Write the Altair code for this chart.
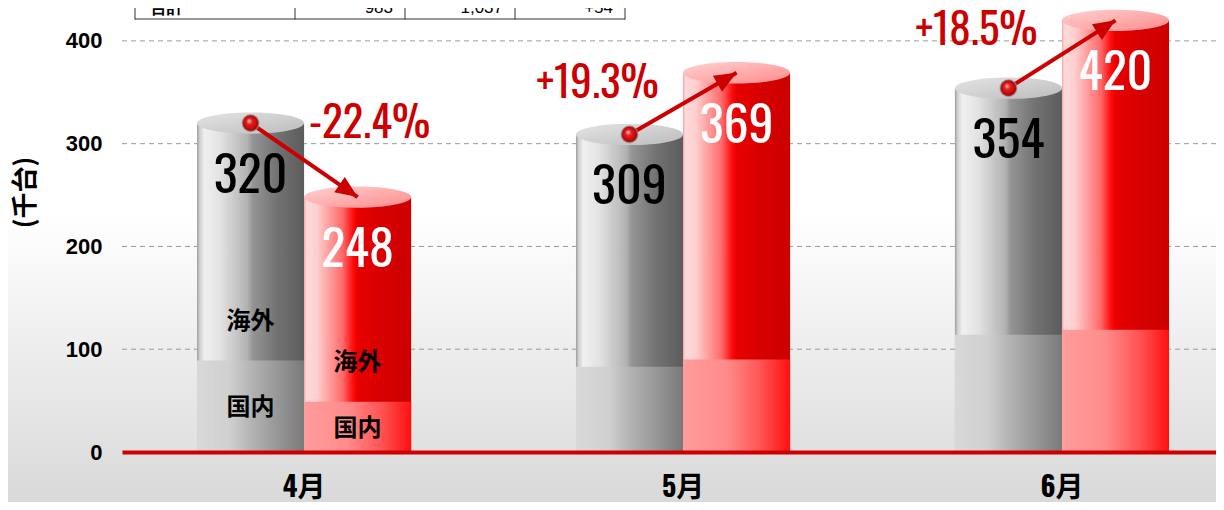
import math
import altair as alt
import pandas as pd

# ---------------- data ----------------
months = ["4月", "5月", "6月"]
series = ["前年", "当年"]
prev_total = [320, 309, 354]
prev_domestic = [89, 83, 114]
curr_total = [248, 369, 420]
curr_domestic = [49, 90, 119]
pct_labels = ["-22.4%", "+19.3%", "+18.5%"]
y_ticks = [0, 100, 200, 300, 400]
seg_names = ["海外", "国内"]
table_cells = ["合計", "983", "1,037", "+54"]
y_title = "(千台)"

# ---------------- layout ----------------
W, H = 1094, 444
YMAX = 432
PAD_L, PAD_B = 114, 50
P_IN, P_OUT, ALIGN = 0.435, 0.161, 0.615
step = W / (len(months) - P_IN + 2 * P_OUT)
band = step * (1 - P_IN)
sub = band / len(series)
kpx = H / YMAX

NUMF = "Oswald, Roboto Condensed, sans-serif"
CJK = "Noto Sans CJK JP"

xscale = alt.Scale(domain=months, paddingInner=P_IN, paddingOuter=P_OUT, align=ALIGN)
yscale = alt.Scale(domain=[0, YMAX], nice=False, zero=True)
oscale = alt.Scale(domain=series, paddingInner=0, paddingOuter=0)

xaxis = alt.Axis(labelAngle=0, domain=True, domainColor="#cc0000", domainWidth=4,
                 ticks=False, grid=False, labelFont="Oswald, Noto Sans CJK JP",
                 labelFontWeight="bold", labelFontSize=28, labelColor="#000000",
                 labelPadding=22, title=None, zindex=1)
yaxis = alt.Axis(values=y_ticks, grid=False, domain=False, ticks=False,
                 labelFont="Liberation Sans", labelFontWeight="bold", labelFontSize=22,
                 labelColor="#000000", labelPadding=20, title=y_title, titleFont=CJK,
                 titleFontSize=26, titleFontWeight="bold", titleColor="#000000",
                 titleX=-97, titleY=184, titleBaseline="middle", titleAlign="center", zindex=1)


def X():
    return alt.X("month:N", scale=xscale, axis=xaxis, sort=months)


def XO(field="series"):
    return alt.XOffset(f"{field}:N", scale=oscale, sort=series)


def Y(field):
    return alt.Y(f"{field}:Q", scale=yscale, axis=yaxis)


def grad(stops, x1=0, y1=0, x2=1, y2=0):
    return alt.Gradient(gradient="linear",
                        stops=[alt.GradientStop(offset=o, color=c) for o, c in stops],
                        x1=x1, y1=y1, x2=x2, y2=y2)


# tables
bars = pd.DataFrame({
    "month": months * 2,
    "series": [series[0]] * 3 + [series[1]] * 3,
    "total": prev_total + curr_total,
    "domestic": prev_domestic + curr_domestic,
})
bars["seg_mid"] = bars["domestic"] / 2
bars["series_idx"] = [0] * 3 + [1] * 3

seg = bars[bars["month"] == months[0]]
seg_os = seg.assign(name=seg_names[0])
seg_dm = seg.assign(name=seg_names[1])

arrow_rows = []
for m, p, c in zip(months, prev_total, curr_total):
    dy_s = (p - c) * kpx
    ang = math.degrees(math.atan2(sub, -dy_s)) % 360
    arrow_rows.append({"month": m, "series": series[1], "total": c, "ang": ang})
arrows = pd.DataFrame(arrow_rows)

pct_rows = []
for m, p, c, lab in zip(months, prev_total, curr_total, pct_labels):
    pct_rows.append({"month": m, "series": series[1] if c < p else series[0],
                     "ymax": max(p, c), "label": lab, "dir": "down" if c < p else "up"})
pct = pd.DataFrame(pct_rows)

one = pd.DataFrame({"a": [0]})

# ---------------- layers ----------------
bg = alt.Chart(one).mark_rect(
    fill=grad([(0, "#ffffff"), (0.42, "#ffffff"), (1, "#d9d9d9")], 0, 0, 0, 1)
).encode(x=alt.value(-PAD_L), x2=alt.value(W), y=alt.value(0), y2=alt.value(H + PAD_B))

grid = alt.Chart(pd.DataFrame({"v": [t for t in y_ticks if t > 0]})).mark_rule(
    color="#9a9a9a", strokeDash=[5, 4], strokeWidth=1
).encode(x=alt.value(0), x2=alt.value(W), y=Y("v"))

GRAY_OS = grad([(0, "#9c9c9c"), (0.025, "#d0d0d0"), (0.07, "#f0f0f0"), (0.22, "#e2e2e2"),
                (0.47, "#b2b2b2"), (0.52, "#959595"), (0.75, "#727272"), (1, "#5c5c5c")])
GRAY_DM = grad([(0, "#d8d8d8"), (0.3, "#d0d0d0"), (0.5, "#b4b4b4"), (1, "#7a7a7a")])
RED_OS = grad([(0, "#ff9a9a"), (0.02, "#ffdada"), (0.12, "#ffcece"), (0.36, "#ff6a6a"),
               (0.46, "#ff0a0a"), (0.5, "#e80000"), (0.72, "#d80000"), (1, "#cc0000")])
RED_DM = grad([(0, "#ff9c9c"), (0.4, "#ff8c8c"), (0.72, "#ff5454"), (1, "#ff1010")])
GRAY_TOP = grad([(0, "#e4e4e4"), (1, "#bcbcbc")], 0, 0, 1, 1)
RED_TOP = grad([(0, "#ffd2d2"), (1, "#ff8a8a")], 0, 0, 1, 1)

base = alt.Chart(bars)
layers = [bg, grid]
for s, g_os, g_dm in [(series[0], GRAY_OS, GRAY_DM), (series[1], RED_OS, RED_DM)]:
    b = base.transform_filter(alt.datum.series == s)
    layers.append(b.mark_bar(fill=g_os, strokeWidth=0).encode(x=X(), xOffset=XO(), y=Y("total")))
    layers.append(b.mark_bar(fill=g_dm, strokeWidth=0).encode(x=X(), xOffset=XO(), y=Y("domestic")))

ELLIPSE = "M-1,0A1,0.2,0,1,0,1,0A1,0.2,0,1,0,-1,0Z"
for s, g in [(series[0], GRAY_TOP), (series[1], RED_TOP)]:
    layers.append(base.transform_filter(alt.datum.series == s).mark_point(
        shape=ELLIPSE, size=sub * sub, filled=True, fill=g, strokeWidth=0, opacity=1
    ).encode(x=X(), xOffset=XO(), y=Y("total")))

layers.append(base.mark_text(font=NUMF, fontSize=50, fontWeight="normal", baseline="middle",
                             dy=55).encode(
    x=X(), xOffset=XO(), y=Y("total"), text=alt.Text("total:Q"),
    color=alt.Color("series:N", scale=alt.Scale(domain=series, range=["#000000", "#ffffff"]),
                    legend=None)))

seg_style = dict(font=CJK, fontSize=24, fontWeight="bold", color="#000000", baseline="middle")
layers.append(alt.Chart(seg_os).mark_text(dy=-39, **seg_style).encode(
    x=X(), xOffset=XO(), y=Y("domestic"), text="name:N"))
layers.append(alt.Chart(seg_dm).mark_text(dy=2, **seg_style).encode(
    x=X(), xOffset=XO(), y=Y("seg_mid"), text="name:N"))

layers.append(base.mark_line(color="#cc0000", strokeWidth=4).encode(
    x=X(), xOffset=XO(), y=Y("total"), detail="month:N", order=alt.Order("series_idx:Q")))

HEAD = "M0,0L-0.42,1L0.42,1Z"
layers.append(alt.Chart(arrows).mark_point(
    shape=HEAD, size=44 * 44, filled=True, fill="#cc0000", strokeWidth=0, opacity=1
).encode(x=X(), xOffset=XO(), y=Y("total"), angle=alt.Angle("ang:Q", scale=None)))

BALL = alt.Gradient(gradient="radial",
                    stops=[alt.GradientStop(offset=0, color="#ffc8c8"),
                           alt.GradientStop(offset=0.35, color="#e82020"),
                           alt.GradientStop(offset=1, color="#a00000")],
                    x1=0.4, y1=0.35, r1=0, x2=0.5, y2=0.5, r2=0.5)
layers.append(base.transform_filter(alt.datum.series == series[0]).mark_point(
    shape="circle", size=280, filled=True, fill=BALL, stroke="#9a9a9a", strokeWidth=1.5,
    strokeOpacity=0.6, opacity=1
).encode(x=X(), xOffset=XO(), y=Y("total")))

pct_style = dict(font=NUMF, fontSize=43, fontWeight="normal", color="#cc0000",
                 baseline="middle", align="center")
layers.append(alt.Chart(pct).transform_filter(alt.datum.dir == "down").mark_text(
    dx=12, dy=2, **pct_style).encode(x=X(), xOffset=XO(), y=Y("ymax"), text="label:N"))
layers.append(alt.Chart(pct).transform_filter(alt.datum.dir == "up").mark_text(
    dx=-32, dy=12, **pct_style).encode(x=X(), xOffset=XO(), y=Y("ymax"), text="label:N"))

# partially visible table at the top
col_edges = [13, 173, 283, 393, 503]
TB = 11
table_lines = pd.DataFrame({"x": col_edges})
layers.append(alt.Chart(table_lines).mark_rule(color="#333333", strokeWidth=1).encode(
    x=alt.X("x:Q", scale=None), y=alt.value(0), y2=alt.value(TB + 0.5)))
layers.append(alt.Chart(one).mark_rule(color="#333333", strokeWidth=1).encode(
    x=alt.value(col_edges[0]), x2=alt.value(col_edges[-1]), y=alt.value(TB)))
tcells = pd.DataFrame({"t": table_cells,
                       "x": [col_edges[0] + 15] + [e - 12 for e in col_edges[2:]],
                       "al": ["left", "right", "right", "right"]})
layers.append(alt.Chart(tcells[tcells.al == "left"]).mark_text(
    font="Liberation Sans", fontSize=17, fontWeight="bold", align="left", baseline="alphabetic"
).encode(x=alt.X("x:Q", scale=None), y=alt.value(TB - 6), text="t:N"))
layers.append(alt.Chart(tcells[tcells.al == "right"]).mark_text(
    font="Liberation Sans", fontSize=17, align="right", baseline="alphabetic"
).encode(x=alt.X("x:Q", scale=None), y=alt.value(TB - 6), text="t:N"))

chart = alt.layer(*layers).properties(
    width=W, height=H,
    padding={"left": PAD_L, "top": 0, "right": 0, "bottom": PAD_B},
    autosize=alt.AutoSizeParams(type="none"),
    background="#ffffff",
).configure_view(stroke=None)

chart.save("out.html", embed_options={"renderer": "svg", "actions": False})
